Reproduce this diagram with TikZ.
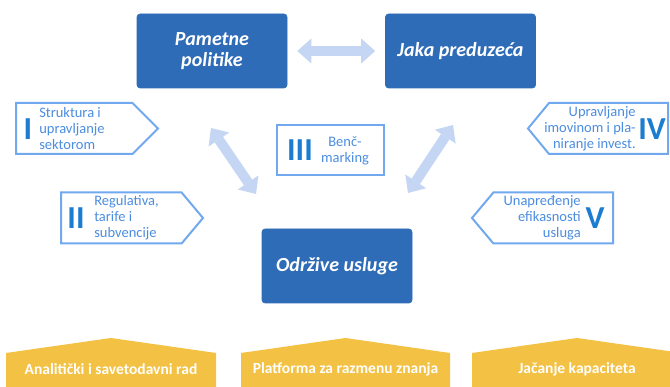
\documentclass[tikz,border=0pt]{standalone}
\usepackage{fontspec}
\setmainfont{Carlito}
\usetikzlibrary{shapes.symbols,arrows.meta}
\definecolor{boxblue}{HTML}{2F6CB8}
\definecolor{arrowblue}{HTML}{C4D6F3}
\definecolor{tagline}{HTML}{72A9EE}
\definecolor{tagtext}{HTML}{4B8DE0}
\definecolor{numblue}{HTML}{1C7CD0}
\definecolor{goldbox}{HTML}{F3C143}

\begin{document}
\begin{tikzpicture}[x=1pt, y=-1pt, semithick,
  mainbox/.style={fill=boxblue, draw=boxblue, rounded corners=3pt, minimum width=150pt,
    minimum height=74pt, text=white, align=center, font=\fontsize{20}{21}\selectfont\bfseries\itshape},
  tag/.style={signal, draw=tagline, line width=2pt, fill=white, minimum height=51pt, inner sep=0pt},
  num/.style={text=numblue, font=\fontsize{32}{32}\selectfont\bfseries, inner sep=0pt},
  tagtxt/.style={text=tagtext, font=\fontsize{14.5}{16}\selectfont, inner sep=0pt},
  goldtxt/.style={text=white, inner sep=0pt, font=\fontsize{15.5}{16}\selectfont\bfseries},
  bigarrow/.style={draw=arrowblue, line width=10pt,
    {Triangle[length=14pt,width=25pt,line width=0pt]}-{Triangle[length=14pt,width=25pt,line width=0pt]}}]
  \useasboundingbox (0,0) rectangle (670,387);

  % main boxes
  \node[mainbox] (P) at (212,51)    {Pametne\\politike};
  \node[mainbox] (J) at (460.5,51)  {Jaka preduzeća};
  \node[mainbox] (O) at (337,266)   {Održive usluge};

  % tags on the left
  \node[tag, signal to=east, signal pointer angle=90, minimum width=142pt, anchor=west] (tI) at (15,128.5) {};
  \node[num] (nI) at (28,129) {I};
  \node[tagtxt, anchor=west, align=left] (xI) at (39,129) {Struktura i\\upravljanje\\sektorom};

  \node[tag, signal to=east, signal pointer angle=100, minimum width=142pt, anchor=west] (tII) at (60,218) {};
  \node[num] (nII) at (76,218) {II};
  \node[tagtxt, anchor=west, align=left] (xII) at (94,218) {Regulativa,\\tarife i\\subvencije};

  % tags on the right
  \node[tag, signal to=west, signal pointer angle=101, minimum width=140pt, anchor=east] (tIV) at (669,128.5) {};
  \node[num] (nIV) at (652,129) {IV};
  \node[tagtxt, anchor=east, align=right] (xIV) at (636,129) {Upravljanje\\imovinom i pla-\\niranje invest.};

  \node[tag, signal to=west, signal pointer angle=100, minimum width=141pt, anchor=east] (tV) at (614,218) {};
  \node[num] (nV) at (595,218) {V};
  \node[tagtxt, anchor=east, align=right] (xV) at (581,218) {Unapređenje\\efikasnosti\\usluga};

  % middle box
  \node[draw=tagline, line width=2pt, minimum width=107pt, minimum height=50pt, inner sep=0pt] (B) at (330.5,150) {};
  \node[num] (nIII) at (300,150) {III};
  \node[tagtxt, align=center, font=\fontsize{14.5}{16.5}\selectfont] (xIII) at (345,151) {Benč-\\marking};

  % arrows
  \coordinate (a1) at (211,128);
  \coordinate (a2) at (256,194);
  \coordinate (b1) at (453,125);
  \coordinate (b2) at (408,193);
  \draw[bigarrow, shorten <=10pt, shorten >=10pt] (P) -- (J);
  \draw[bigarrow] (a1) -- (a2);
  \draw[bigarrow] (b1) -- (b2);

  % bottom row
  \foreach \xa/\xb in {6/216, 241/450, 472/682}
    \fill[goldbox] (\xa,390) -- (\xa,353) -- ({(\xa+\xb)/2},338) -- (\xb,353) -- (\xb,390) -- cycle;
  \node[goldtxt] (Y1) at (111,369)   {Analitički i savetodavni rad};
  \node[goldtxt] (Y2) at (345.5,369) {Platforma za razmenu znanja};
  \node[goldtxt] (Y3) at (577,369)   {Jačanje kapaciteta};
\end{tikzpicture}
\end{document}
